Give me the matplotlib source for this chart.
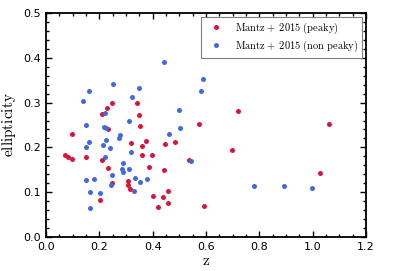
import numpy as np
import matplotlib
matplotlib.use("Agg")
import matplotlib.pyplot as plt
from matplotlib.ticker import MultipleLocator

# Mantz+ 2015 (peaky)
peaky_z = [0.249, 0.341, 0.230, 0.209, 0.349, 0.351, 0.721, 0.573, 0.099, 0.231,
           1.062, 0.320, 0.374, 0.360, 0.447, 0.484, 0.070, 0.084, 0.098, 0.149,
           0.210, 0.360, 0.396, 0.233, 0.387, 0.444, 0.536, 0.699, 0.249, 0.308,
           0.309, 0.314, 0.204, 0.400, 0.439, 0.458, 0.456, 0.419, 0.593, 1.026]
peaky_e = [0.298, 0.298, 0.287, 0.275, 0.272, 0.247, 0.281, 0.253, 0.231, 0.241,
           0.252, 0.210, 0.214, 0.203, 0.208, 0.212, 0.182, 0.179, 0.173, 0.179,
           0.172, 0.184, 0.183, 0.155, 0.156, 0.150, 0.171, 0.194, 0.121, 0.124,
           0.115, 0.108, 0.082, 0.092, 0.089, 0.103, 0.075, 0.066, 0.070, 0.143]

# Mantz+ 2015 (non peaky)
nonpeaky_z = [0.442, 0.589, 0.581, 0.250, 0.162, 0.349, 0.137, 0.324, 0.222, 0.500,
              0.150, 0.311, 0.216, 0.225, 0.503, 0.461, 0.278, 0.274, 0.160, 0.149,
              0.213, 0.224, 0.240, 0.319, 0.221, 0.290, 0.284, 0.289, 0.311, 0.249,
              0.149, 0.179, 0.333, 0.353, 0.380, 0.243, 0.166, 0.201, 0.331, 0.165,
              0.544, 0.780, 0.891, 0.997]
nonpeaky_e = [0.390, 0.352, 0.327, 0.342, 0.325, 0.333, 0.304, 0.313, 0.276, 0.283,
              0.251, 0.259, 0.246, 0.243, 0.243, 0.229, 0.228, 0.220, 0.211, 0.200,
              0.206, 0.217, 0.199, 0.190, 0.178, 0.165, 0.152, 0.145, 0.152, 0.138,
              0.127, 0.130, 0.131, 0.123, 0.129, 0.116, 0.101, 0.098, 0.102, 0.065,
              0.169, 0.113, 0.113, 0.110]

plt.rcParams["mathtext.fontset"] = "cm"

fig = plt.figure(figsize=(4.07, 2.71), dpi=100)
ax = fig.add_axes([0.113, 0.1255, 0.786, 0.8265])

ax.plot(peaky_z, peaky_e, "o", color="crimson", ms=3.6, mec="none",
        label=r"$\mathrm{Mantz+\ 2015\ (peaky)}$")
ax.plot(nonpeaky_z, nonpeaky_e, "o", color="royalblue", ms=3.6, mec="none",
        label=r"$\mathrm{Mantz+\ 2015\ (non\ peaky)}$")

ax.set_xlim(0, 1.2)
ax.set_ylim(0, 0.5)
ax.xaxis.set_major_locator(MultipleLocator(0.2))
ax.xaxis.set_minor_locator(MultipleLocator(0.05))
ax.yaxis.set_major_locator(MultipleLocator(0.1))
ax.yaxis.set_minor_locator(MultipleLocator(0.02))

ax.tick_params(which="both", direction="in", top=True, right=True, width=1.0,
               labelsize=8)
ax.tick_params(which="major", length=4.5)
ax.tick_params(which="minor", length=2.5)
for sp in ax.spines.values():
    sp.set_linewidth(1.3)

ax.set_xlabel(r"$\mathrm{z}$", fontsize=11, labelpad=1)
ax.set_ylabel(r"$\mathrm{ellipticity}$", fontsize=11)

leg = ax.legend(loc="upper right", numpoints=1, fontsize=7.5, fancybox=False,
                edgecolor="gray", framealpha=1, handletextpad=0.8,
                borderaxespad=0.35, handlelength=2.0, labelspacing=0.25)
leg.get_frame().set_linewidth(0.8)

fig.savefig("out.png", dpi=100)
